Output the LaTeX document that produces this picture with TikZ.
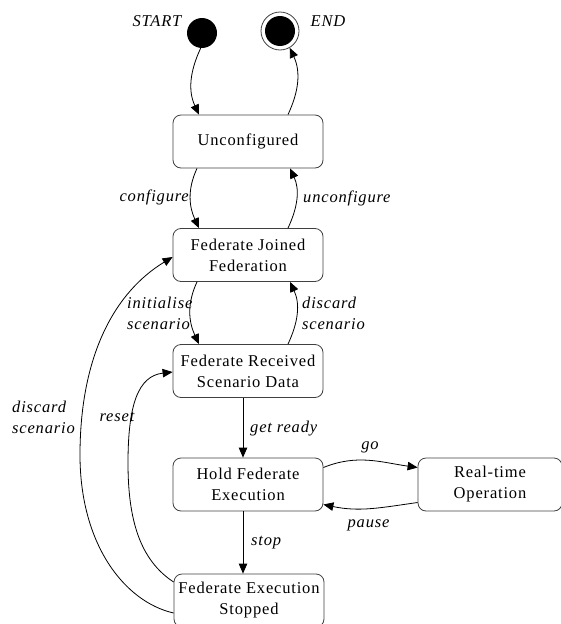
\documentclass[tikz,border=0pt]{standalone}
\usepackage{fontspec}
\setmainfont{Liberation Serif}[LetterSpace=5]
\usetikzlibrary{arrows.meta,calc}
\begin{document}
\begin{tikzpicture}[x=1pt,y=1pt,
  statebox/.style={draw=black!75, line width=0.8pt, rounded corners=8pt,
    minimum width=150pt, minimum height=53pt, align=center, inner sep=2pt,
    font=\fontsize{16.5}{21}\selectfont},
  lbl/.style={inner sep=0pt, align=left, font=\fontsize{16.5}{21}\selectfont\itshape},
  conn/.style={draw=black, line width=0.8pt, -{Triangle[length=10pt,width=8.5pt]}}
]
\useasboundingbox (0,0) rectangle (560,-624);
% initial and final states
\node[circle, fill=black, minimum size=30pt, inner sep=0pt] (start) at (202,-33) {};
\node[circle, draw=black!75, line width=0.8pt, minimum size=38pt, inner sep=0pt] (end) at (280,-31) {};
\node[circle, fill=black, minimum size=30pt, inner sep=0pt] (endin) at (end.center) {};
\node[lbl] (lstart) at (157,-21) {START};
\node[lbl] (lend) at (328,-21) {END};
% states
\node[statebox] (u) at (248,-141.5) {Unconfigured};
\node[statebox] (fjf) at (248,-255) {Federate Joined\\Federation};
\node[statebox] (frs) at (248,-371) {Federate Received\\Scenario Data};
\node[statebox] (hfe) at (248,-484.5) {Hold Federate\\Execution};
\node[statebox, minimum width=144pt] (rto) at (490,-484.5) {Real-time\\Operation};
\node[statebox] (fes) at (249,-600.5) {Federate Execution\\Stopped};
% transitions
\draw[conn] (start.-95) to[out=-115,in=115] ([xshift=-49pt]u.north);
\draw[conn] ([xshift=40pt]u.north) to[out=65,in=-65] (end.-60);
\draw[conn] ([xshift=-51pt]u.south) to[out=-115,in=115] ([xshift=-49pt]fjf.north);
\draw[conn] ([xshift=40pt]fjf.north) to[out=65,in=-65] ([xshift=42pt]u.south);
\draw[conn] ([xshift=-51pt]fjf.south) to[out=-115,in=115] ([xshift=-49pt]frs.north);
\draw[conn] ([xshift=40pt]frs.north) to[out=65,in=-65] ([xshift=42pt]fjf.south);
\draw[conn] ([xshift=-5pt]frs.south) -- ([xshift=-5pt]hfe.north);
\draw[conn] ([xshift=-5pt]hfe.south) -- ([xshift=-6pt]fes.north);
\draw[conn] ([yshift=17pt]hfe.east) to[out=22,in=172] ([yshift=17pt]rto.west);
\draw[conn] ([yshift=-18pt]rto.west) to[out=188,in=-12] ([yshift=-20pt]hfe.east);
\draw[conn] ([yshift=18.5pt]fes.west) .. controls (140,-560) and (128,-520) .. (128,-463)
   .. controls (128,-405) and (138,-376) .. ([yshift=-1pt]frs.west);
\draw[conn] ([yshift=-12.5pt]fes.west) .. controls (125,-602) and (80,-545) .. (80,-455)
   .. controls (80,-355) and (115,-292) .. ([yshift=-2pt]fjf.west);
% labels
\node[lbl, anchor=east] (lconf) at (189,-197) {configure};
\node[lbl, anchor=west] (lunconf) at (303,-198) {unconfigure};
\node[lbl, anchor=west] (linit) at (127,-313) {initialise\\scenario};
\node[lbl, anchor=west] (ldisc) at (302,-313) {discard\\scenario};
\node[lbl, anchor=west] (ldisc2) at (12,-417.5) {discard\\scenario};
\node[lbl] (lreset) at (117,-417) {reset};
\node[lbl, anchor=west] (lready) at (250,-429) {get ready};
\node[lbl] (lgo) at (370,-447) {go};
\node[lbl] (lpause) at (368.5,-525) {pause};
\node[lbl, anchor=west] (lstop) at (251,-543) {stop};
\end{tikzpicture}
\end{document}
